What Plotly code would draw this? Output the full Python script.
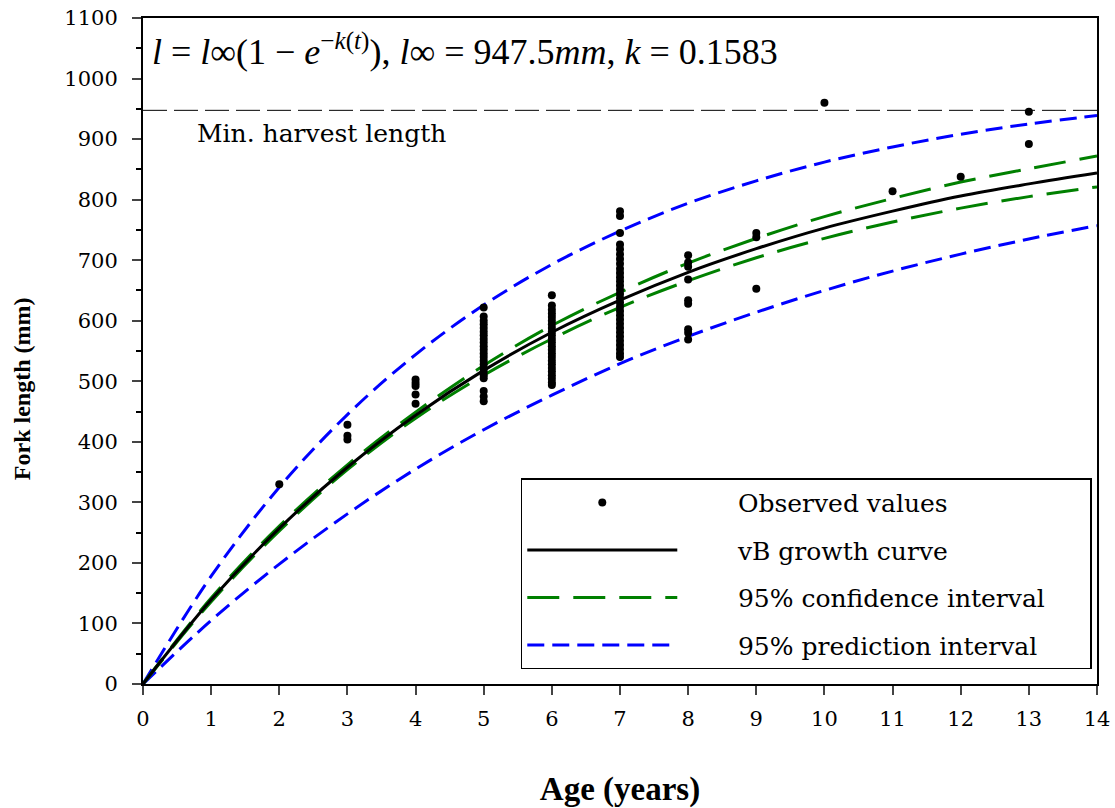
import plotly.graph_objects as go

# ---- data ----
curve_age = [0, 1, 2, 3, 4, 5, 6, 7, 8, 9, 10, 11, 12, 13, 14]
vb_curve = [0, 139, 257, 358, 444, 518, 581, 634, 680, 719, 753, 781, 806, 826, 844]
ci_upper = [0, 142, 261, 362, 449, 526, 592, 647, 695, 736, 772, 802, 829, 851, 872]
ci_lower = [0, 136, 253, 354, 439, 510, 570, 622, 666, 704, 736, 763, 786, 805, 821]
pi_upper = [0, 178, 325, 445, 544, 626, 693, 748, 794, 831, 862, 887, 908, 925, 939]
pi_lower = [0, 105, 198, 281, 355, 420, 477, 529, 574, 614, 650, 682, 710, 735, 757]

len_age2 = [330]
len_age3 = [428, 410, 404]
len_age4 = [503, 497, 492, 478, 463]
len_age5 = [622, 607, 600, 594, 588, 582, 576, 570, 564, 558, 552, 546, 540, 534,
            528, 522, 516, 510, 505, 484, 475, 467]
len_age6 = [642, 625, 618, 612, 606, 600, 594, 588, 582, 576, 570, 564, 558, 552,
            546, 540, 534, 528, 522, 516, 510, 504, 498, 494]
len_age7 = [781, 773, 745, 726, 718, 710, 702, 694, 686, 679, 672, 665, 658, 651,
            644, 637, 630, 623, 616, 609, 602, 595, 588, 581, 574, 567, 560, 553,
            546, 540]
len_age8 = [708, 696, 689, 668, 634, 628, 586, 580, 569]
len_age9 = [745, 738, 653]
len_age10 = [960]
len_age11 = [814]
len_age12 = [838]
len_age13 = [945, 892]

min_harvest = 947.5
x_ticks = list(range(0, 15))
y_ticks = list(range(0, 1101, 100))

groups = [(2, len_age2), (3, len_age3), (4, len_age4), (5, len_age5), (6, len_age6),
          (7, len_age7), (8, len_age8), (9, len_age9), (10, len_age10),
          (11, len_age11), (12, len_age12), (13, len_age13)]
obs_x, obs_y = [], []
for a, vals in groups:
    obs_x += [a] * len(vals)
    obs_y += vals

SERIF = "DejaVu Serif"
TITLE = "Liberation Serif"
PAD = "\u00a0" * 7
TAIL = "\u00a0" * 5

fig = go.Figure()

# minimum harvest length line
fig.add_trace(go.Scatter(x=[0, 14], y=[min_harvest, min_harvest], mode="lines",
                         line=dict(color="black", width=1, dash="24px,7px"),
                         showlegend=False, hoverinfo="skip"))

fig.add_trace(go.Scatter(x=curve_age, y=pi_upper, mode="lines", line_shape="spline",
                         line=dict(color="#0000ff", width=3, dash="17px,8px"),
                         showlegend=False, legendgroup="d", legendrank=4))
fig.add_trace(go.Scatter(x=curve_age, y=pi_lower, mode="lines", line_shape="spline",
                         line=dict(color="#0000ff", width=3, dash="17px,8px"),
                         name=PAD + "95% prediction interval" + TAIL,
                         legendgroup="d", legendrank=4))
fig.add_trace(go.Scatter(x=curve_age, y=ci_upper, mode="lines", line_shape="spline",
                         line=dict(color="#008000", width=3, dash="32px,14px"),
                         showlegend=False, legendgroup="c", legendrank=3))
fig.add_trace(go.Scatter(x=curve_age, y=ci_lower, mode="lines", line_shape="spline",
                         line=dict(color="#008000", width=3, dash="32px,14px"),
                         name=PAD + "95% confidence interval" + TAIL,
                         legendgroup="c", legendrank=3))
fig.add_trace(go.Scatter(x=curve_age, y=vb_curve, mode="lines", line_shape="spline",
                         line=dict(color="black", width=3),
                         name=PAD + "vB growth curve", legendgroup="b", legendrank=2))
fig.add_trace(go.Scatter(x=obs_x, y=obs_y, mode="markers",
                         marker=dict(color="black", size=8),
                         name=PAD + "Observed values", legendgroup="a", legendrank=1))

fig.update_layout(
    width=1115, height=808,
    margin=dict(l=143, r=18, t=18, b=124),
    plot_bgcolor="white", paper_bgcolor="white",
    font=dict(family=SERIF, size=21, color="black"),
    legend=dict(x=0.396, y=0.309, xanchor="left", yanchor="top",
                bordercolor="black", borderwidth=1.5, bgcolor="white",
                traceorder="grouped", itemwidth=150, tracegroupgap=12,
                font=dict(family=SERIF, size=25)),
    xaxis=dict(range=[0, 14], tickvals=x_ticks, ticks="outside", ticklen=9,
               tickwidth=2, linecolor="black", linewidth=2, mirror=True,
               showgrid=False, zeroline=False, automargin=False,
               ticklabelstandoff=6, tickfont=dict(family=SERIF, size=21),
               title=dict(text="<b>Age (years)</b>", standoff=48,
                          font=dict(family=TITLE, size=33))),
    yaxis=dict(range=[0, 1100], tickvals=y_ticks, ticks="outside", ticklen=9,
               tickwidth=2, linecolor="black", linewidth=2, mirror=True,
               showgrid=False, zeroline=False, automargin=False,
               ticklabelstandoff=10, tickfont=dict(family=SERIF, size=21),
               minor=dict(dtick=50, ticks="outside", ticklen=5, tickwidth=1.5,
                          tickcolor="black", showgrid=False)),
)

# y-axis title (placed as in the reference, slightly below the axis centre)
fig.add_annotation(xref="paper", yref="paper", x=-0.127, y=0.444, xanchor="center",
                   yanchor="middle", showarrow=False, textangle=-90,
                   text="<b>Fork length (mm)</b>",
                   font=dict(family=TITLE, size=24, color="black"))

fig.add_annotation(xref="paper", yref="paper", x=0.007, y=0.952, xanchor="left",
                   yanchor="middle", showarrow=False,
                   text="<i>l</i> = <i>l</i>∞(1 − <i>e</i><sup>−<i>k</i>(<i>t</i>)</sup>), "
                        "<i>l</i>∞ = 947.5<i>mm</i>, <i>k</i> = 0.1583",
                   font=dict(family=TITLE, size=36, color="black"))
fig.add_annotation(xref="paper", yref="paper", x=0.054, y=0.827, xanchor="left",
                   yanchor="middle", showarrow=False, text="Min. harvest length",
                   font=dict(family=SERIF, size=25, color="black"))

fig.write_html("out.html")
